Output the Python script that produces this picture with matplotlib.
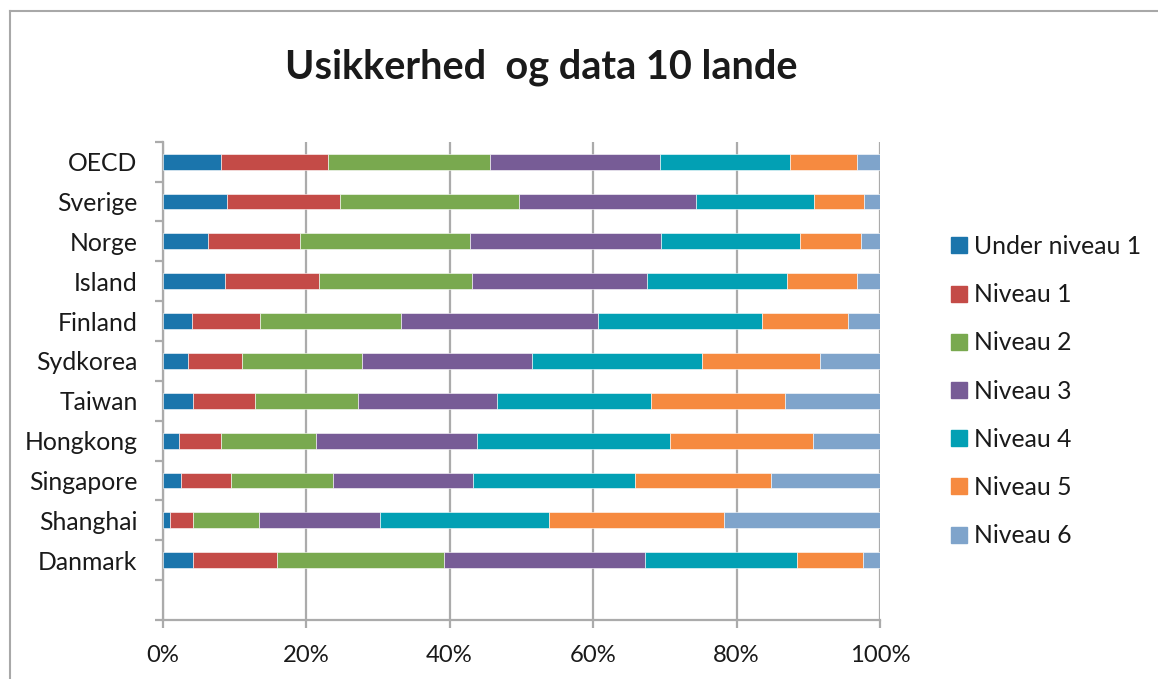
import matplotlib
matplotlib.use("Agg")
import matplotlib.pyplot as plt
from matplotlib.lines import Line2D
from matplotlib.ticker import FixedLocator, FuncFormatter
import numpy as np

plt.rcParams['font.family'] = ['Lato', 'DejaVu Sans']

title = "Usikkerhed  og data 10 lande"
countries = ["Danmark", "Shanghai", "Singapore", "Hongkong", "Taiwan",
             "Sydkorea", "Finland", "Island", "Norge", "Sverige", "OECD"]
levels = ["Under niveau 1", "Niveau 1", "Niveau 2", "Niveau 3",
          "Niveau 4", "Niveau 5", "Niveau 6"]

under1 = [4.3, 1.0, 2.6, 2.3, 4.3, 3.5, 4.1, 8.7, 6.4, 9.0, 8.2]
niv1 = [11.6, 3.3, 7.0, 5.9, 8.6, 7.6, 9.5, 13.1, 12.8, 15.8, 14.8]
niv2 = [23.3, 9.1, 14.2, 13.2, 14.4, 16.7, 19.7, 21.3, 23.7, 24.9, 22.6]
niv3 = [28.0, 16.9, 19.5, 22.4, 19.3, 23.7, 27.4, 24.4, 26.6, 24.6, 23.8]
niv4 = [21.2, 23.6, 22.6, 26.9, 21.5, 23.7, 22.9, 19.5, 19.3, 16.5, 18.1]
niv5 = [9.3, 24.3, 18.9, 20.0, 18.7, 16.4, 11.9, 9.8, 8.5, 7.0, 9.3]
niv6 = [2.3, 21.8, 15.2, 9.3, 13.2, 8.4, 4.5, 3.2, 2.7, 2.2, 3.2]

series = [under1, niv1, niv2, niv3, niv4, niv5, niv6]
colors = ["#1B75AC", "#C44B47", "#79A94F", "#775C96", "#02A0B4", "#F68A40", "#7FA4CB"]

W, H = 1158, 679
fig = plt.figure(figsize=(W / 100, H / 100), dpi=100)

ax = fig.add_axes([162.5 / W, 1 - 620 / H, (880 - 162.5) / W, (620 - 141.7) / H])

# y positions: empty slot at 0, countries 1..11
ypos = np.arange(1, len(countries) + 1)
data = np.array(series, dtype=float)
totals = data.sum(axis=0)
frac = data / totals * 100
left = np.zeros(len(countries))
for vals, col, lab in zip(frac, colors, levels):
    ax.barh(ypos, vals, left=left, height=0.4, color=col, label=lab,
            edgecolor="white", linewidth=0.4, zorder=3)
    left += vals

ax.set_xlim(0, 100)
ax.set_ylim(-0.5, len(countries) + 0.5)

gridc = "#ABABAB"
txtc = "#1a1a1a"
ax.set_xticks(np.arange(0, 101, 20))
ax.xaxis.set_major_formatter(FuncFormatter(lambda v, p: f"{int(round(v))}%"))
ax.grid(axis="x", color=gridc, linewidth=1.6, zorder=0)
ax.tick_params(axis="x", length=6, width=1.6, color=gridc, pad=12,
               labelsize=17.2, labelcolor=txtc)

ax.set_yticks(ypos)
ax.set_yticklabels(countries)
ax.yaxis.set_minor_locator(FixedLocator(np.arange(-0.5, len(countries) + 1, 1.0)))
ax.tick_params(axis="y", which="major", length=0, pad=18, labelsize=17.8,
               labelcolor=txtc)
ax.tick_params(axis="y", which="minor", length=6, width=1.6, color=gridc)

for s in ["top", "right"]:
    ax.spines[s].set_visible(False)
for s in ["left", "bottom"]:
    ax.spines[s].set_color(gridc)
    ax.spines[s].set_linewidth(1.6)

fig.text(541 / W, 1 - 78 / H, title, ha="center", va="baseline",
         fontsize=28.5, fontweight="bold", color=txtc)

handles = [Line2D([], [], marker="s", linestyle="none", markersize=11,
                  markerfacecolor=c, markeredgecolor=c) for c in colors]
fig.legend(handles, levels, loc="upper left",
           bbox_to_anchor=(951 / W, 1 - 235 / H), frameon=False,
           fontsize=17.8, labelspacing=1.02, handlelength=0.65,
           handletextpad=0.27, borderpad=0, borderaxespad=0,
           labelcolor=txtc)

# chart area border (partially visible)
border = "#A8A8A8"
fig.add_artist(Line2D([10 / W, 10 / W], [0, 1 - 11 / H], transform=fig.transFigure,
                      color=border, linewidth=1.5))
fig.add_artist(Line2D([10 / W, 1], [1 - 11 / H, 1 - 11 / H], transform=fig.transFigure,
                      color=border, linewidth=1.5))

fig.savefig("out.png", dpi=100)
